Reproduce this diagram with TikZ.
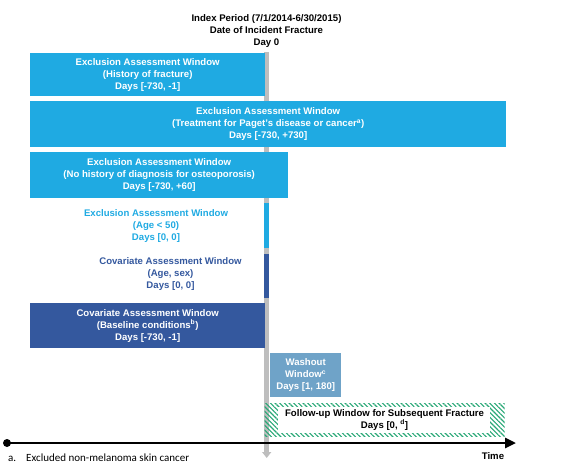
\documentclass[tikz,border=0pt]{standalone}
\usepackage{fontspec}
\setmainfont{Liberation Sans}
\newfontfamily\notefont{Carlito}
\usetikzlibrary{arrows.meta,patterns.meta}
\definecolor{lblue}{RGB}{31,170,226}
\definecolor{dblue}{RGB}{52,88,158}
\definecolor{wblue}{RGB}{111,163,200}
\definecolor{bargray}{RGB}{190,190,190}
\definecolor{hgreen}{RGB}{40,168,118}
\begin{document}
\begin{tikzpicture}[x=1pt,y=-1pt,
  lbl/.style={font=\fontsize{9.6}{12}\selectfont\bfseries, align=center, inner sep=0pt},
  winbox/.style={anchor=north west, inner sep=0pt, draw=none},
  bar/.style={anchor=north west, inner sep=0pt, minimum width=5pt, draw=none}]
\useasboundingbox (0,0) rectangle (571,464);
% title
\node[lbl] (title) at (266.5,31) {Index Period (7/1/2014-6/30/2015)\\Date of Incident Fracture\\Day 0};
% day-0 gray line
\coordinate (g0) at (266.7,52);
\coordinate (g1) at (266.7,458);
\draw[bargray, line width=4.6pt, -{Triangle[width=9pt,length=6pt]}] (g0) -- (g1);
% box 1
\node[winbox, fill=lblue, minimum width=235pt, minimum height=43pt] (b1) at (30,53) {};
\node[lbl, text=white] (t1) at (b1.center) {Exclusion Assessment Window\\(History of fracture)\\Days [-730, -1]};
% box 2
\node[winbox, fill=lblue, minimum width=476pt, minimum height=46pt] (b2) at (30,101) {};
\node[lbl, text=white] (t2) at (b2.center) {Exclusion Assessment Window\\(Treatment for Paget's disease or cancer\textsuperscript{a})\\Days [-730, +730]};
% box 3
\node[winbox, fill=lblue, minimum width=258pt, minimum height=46pt] (b3) at (30,152) {};
\node[lbl, text=white] (t3) at (b3.center) {Exclusion Assessment Window\\(No history of diagnosis for osteoporosis)\\Days [-730, +60]};
% box 4 (age < 50)
\node[bar, fill=lblue, minimum height=45pt] (b4) at (264.2,203) {};
\node[lbl, text=lblue] (t4) at (156,226) {Exclusion Assessment Window\\(Age < 50)\\Days [0, 0]};
% box 5 (age, sex)
\node[bar, fill=dblue, minimum height=44pt] (b5) at (264.2,254) {};
\node[lbl, text=dblue] (t5) at (170.5,274.5) {Covariate Assessment Window\\(Age, sex)\\Days [0, 0]};
% box 6
\node[winbox, fill=dblue, minimum width=235pt, minimum height=45pt] (b6) at (30,303) {};
\node[lbl, text=white] (t6) at (b6.center) {Covariate Assessment Window\\(Baseline conditions\textsuperscript{b})\\Days [-730, -1]};
% washout
\node[winbox, fill=wblue, minimum width=71pt, minimum height=44pt] (b7) at (270,353) {};
\node[lbl, text=white] (t7) at (b7.center) {Washout\\Window\textsuperscript{c}\\Days [1, 180]};
% follow-up
\node[winbox, pattern={Lines[angle=-45,distance=3.3pt,line width=1.1pt]}, pattern color=hgreen, minimum width=240pt, minimum height=33pt] (b8) at (264,403) {};
\node[winbox, fill=white, minimum width=212.5pt, minimum height=26pt] (b8in) at (277.5,407) {};
\node[lbl, text=black] (t8) at (b8.center) {Follow-up Window for Subsequent Fracture\\Days [0, \textsuperscript{d}]};
% time axis
\node[circle, fill=black, inner sep=0pt, minimum size=8pt] (dot) at (7,443) {};
\coordinate (tend) at (516,443);
\draw[line width=2.6pt, -{Triangle[width=10pt,length=11pt]}] (dot.center) -- (tend);
\node[lbl, anchor=base] (time) at (493,459.5) {Time};
% footnote
\node[font=\notefont\fontsize{11}{12}\selectfont, anchor=base west, inner sep=0pt] (fn) at (8,461) {a.\hspace{10pt}Excluded non-melanoma skin cancer};
\end{tikzpicture}
\end{document}
